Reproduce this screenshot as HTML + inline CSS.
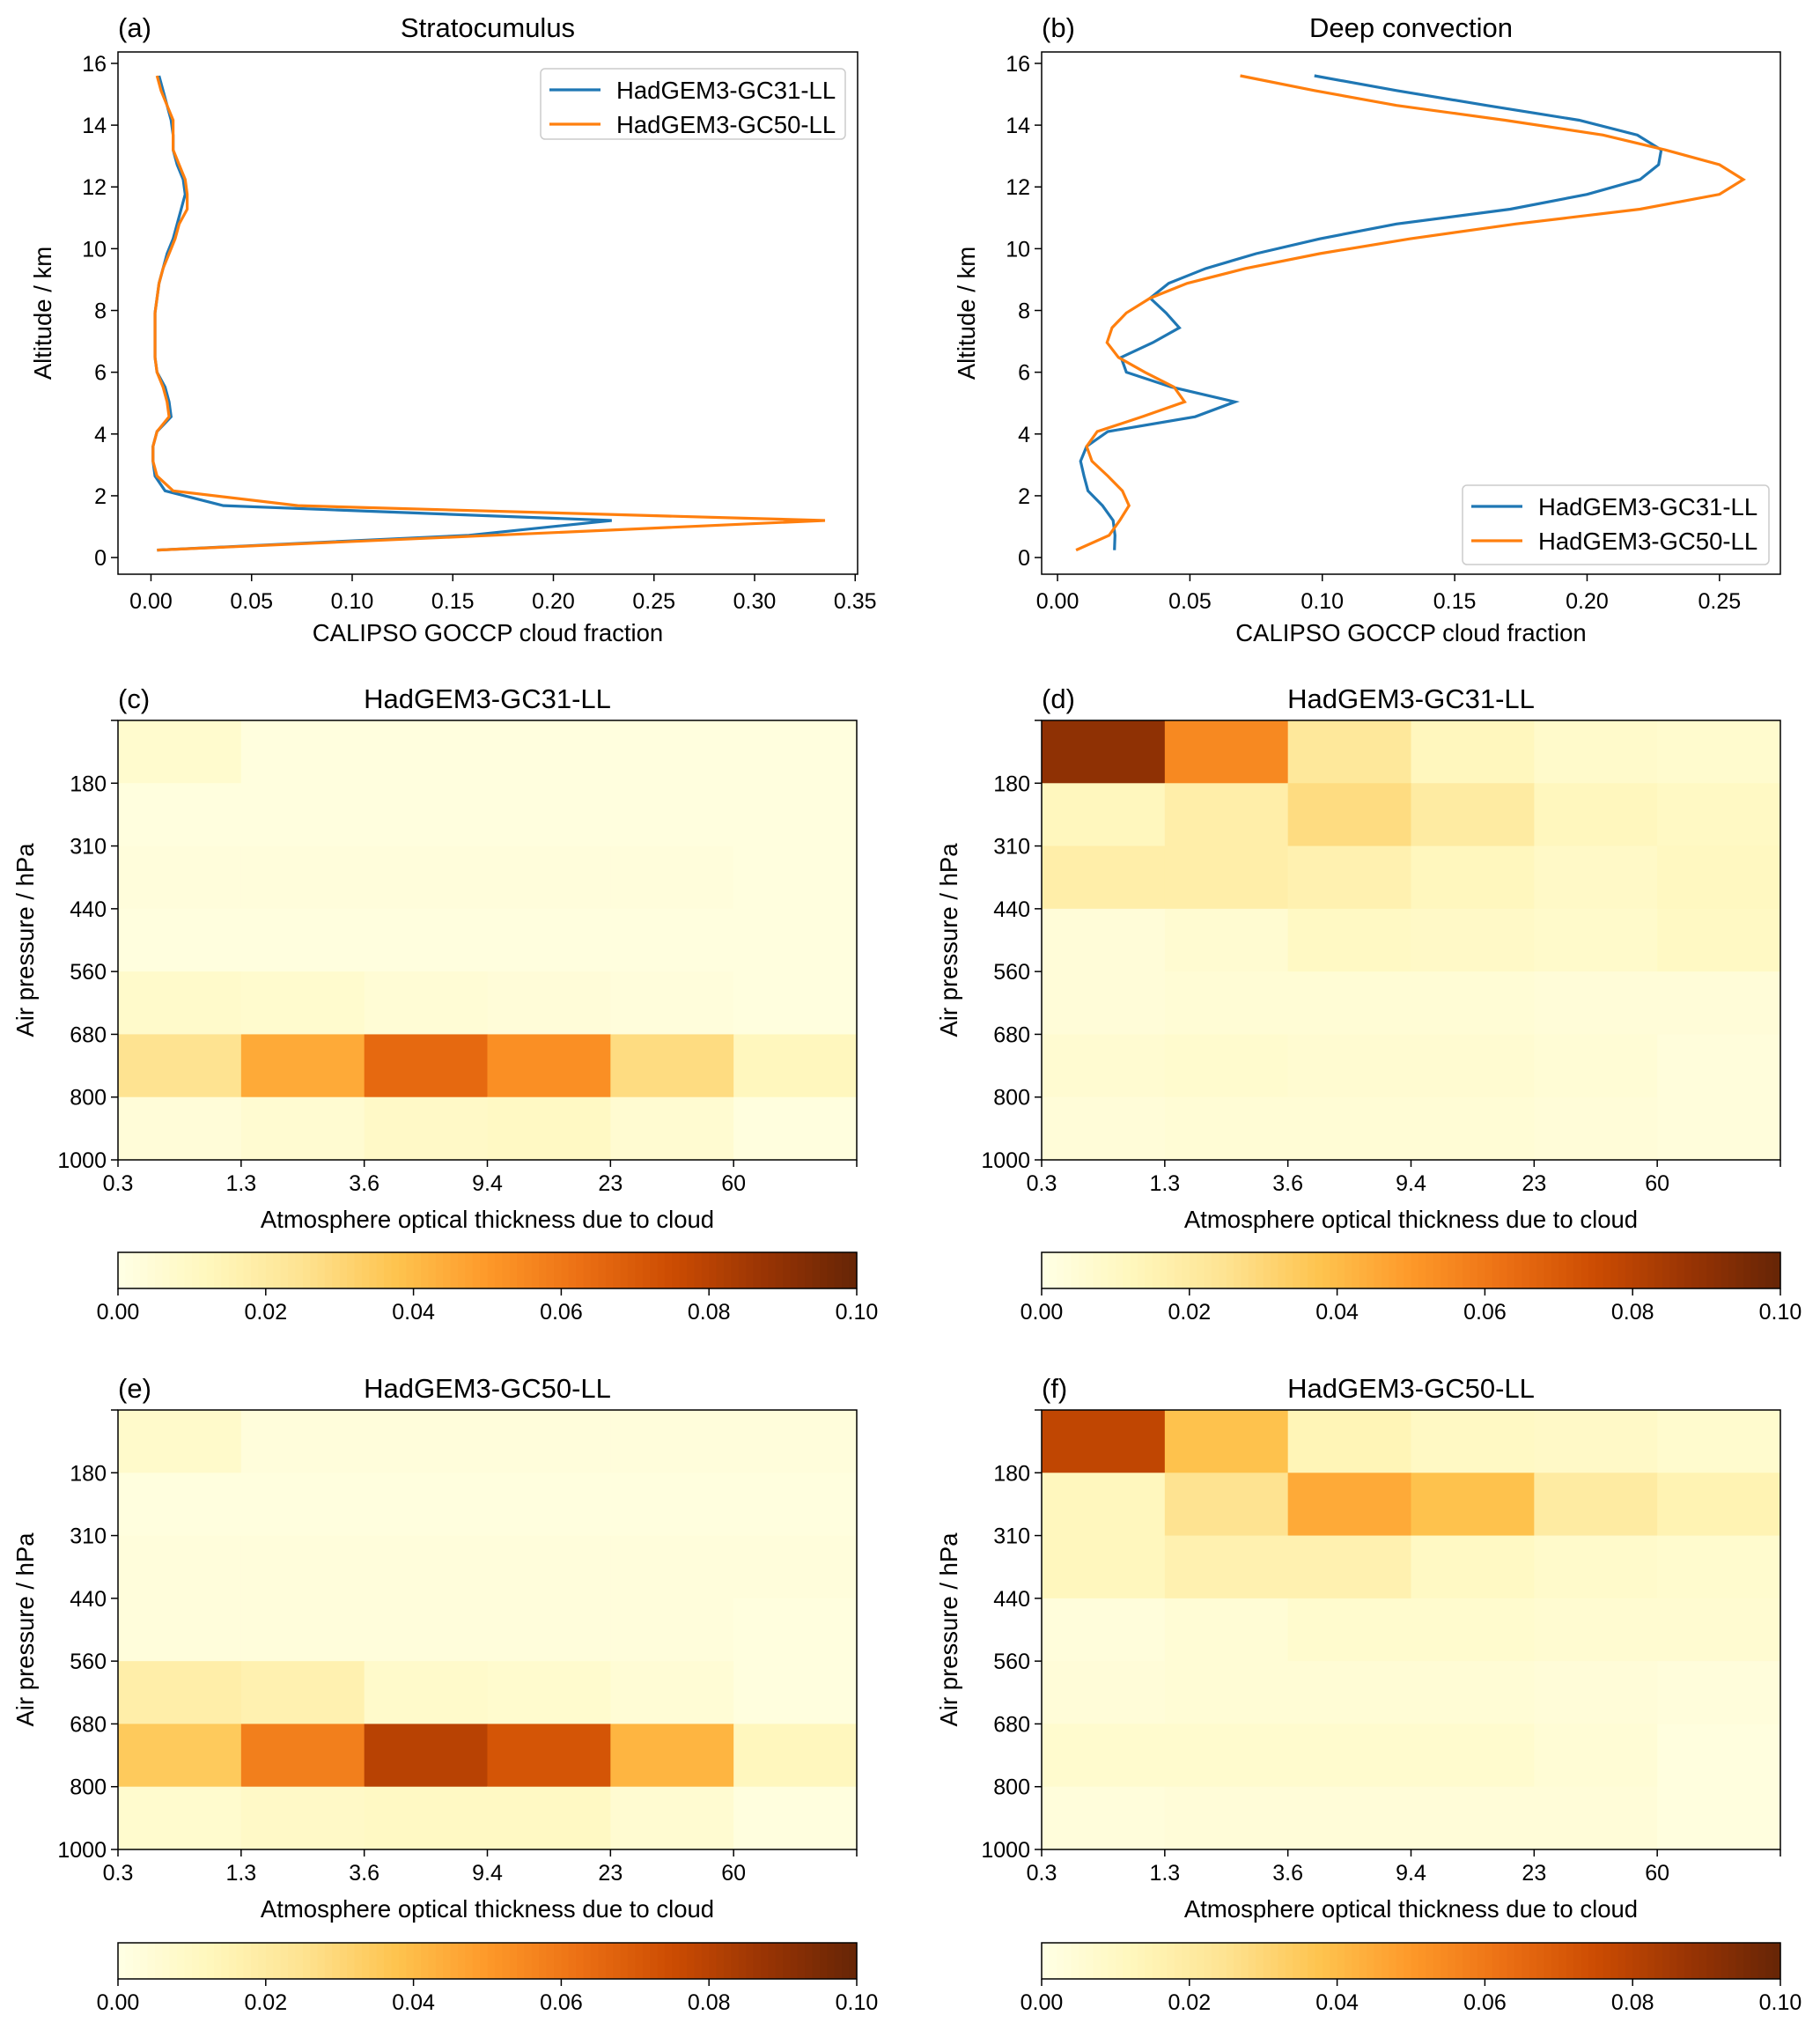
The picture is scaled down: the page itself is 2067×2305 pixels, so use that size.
<!DOCTYPE html>
<html><head><meta charset="utf-8"><style>
body{margin:0;background:#fff}
svg text{font-family:"Liberation Sans",sans-serif;fill:#000}
</style></head><body>
<svg id="fig" width="2067" height="2300" viewBox="0 0 2067 2300" xmlns="http://www.w3.org/2000/svg"></svg>
<script>
const altitudes=[0.24,0.72,1.2,1.68,2.16,2.64,3.12,3.6,4.08,4.56,5.04,5.52,6.0,6.48,6.96,7.44,7.92,8.4,8.88,9.36,9.84,10.32,10.8,11.28,11.76,12.24,12.72,13.2,13.68,14.16,14.64,15.12,15.6];
const scGC31=[0.003,0.158,0.229,0.036,0.007,0.002,0.001,0.001,0.003,0.010,0.009,0.007,0.003,0.002,0.002,0.002,0.002,0.003,0.004,0.006,0.008,0.011,0.013,0.015,0.017,0.016,0.013,0.011,0.011,0.010,0.008,0.006,0.004];
const scGC50=[0.003,0.17,0.335,0.073,0.011,0.003,0.001,0.001,0.003,0.009,0.008,0.006,0.003,0.002,0.002,0.002,0.002,0.003,0.004,0.006,0.009,0.012,0.014,0.018,0.018,0.017,0.014,0.011,0.011,0.011,0.008,0.005,0.003];
const dcGC31=[0.0215,0.0217,0.021,0.017,0.0115,0.010,0.0087,0.011,0.019,0.052,0.067,0.043,0.026,0.024,0.036,0.046,0.041,0.035,0.042,0.056,0.075,0.099,0.128,0.171,0.200,0.220,0.227,0.228,0.219,0.197,0.162,0.128,0.097];
const dcGC50=[0.007,0.0195,0.0235,0.027,0.0245,0.019,0.013,0.011,0.015,0.032,0.048,0.044,0.033,0.023,0.0187,0.0206,0.026,0.035,0.049,0.071,0.099,0.133,0.173,0.220,0.250,0.259,0.250,0.2295,0.206,0.169,0.128,0.097,0.069];
const xTicksA=["0.00","0.05","0.10","0.15","0.20","0.25","0.30","0.35"];
const xTicksB=["0.00","0.05","0.10","0.15","0.20","0.25"];
const yTicksAlt=[0,2,4,6,8,10,12,14,16];
const tauLabels=["0.3","1.3","3.6","9.4","23","60",""];
const presLabels=["","180","310","440","560","680","800","1000"];
const cbTicks=["0.00","0.02","0.04","0.06","0.08","0.10"];
const histC=[[0.007,0.002,0.002,0.002,0.002,0.002],[0.002,0.002,0.002,0.002,0.002,0.002],[0.003,0.003,0.003,0.003,0.003,0.002],[0.002,0.002,0.002,0.002,0.002,0.002],[0.008,0.007,0.005,0.004,0.003,0.002],[0.025,0.045,0.065,0.053,0.028,0.012],[0.004,0.006,0.009,0.010,0.006,0.002]];
const histD=[[0.09,0.055,0.022,0.012,0.008,0.007],[0.012,0.018,0.028,0.020,0.012,0.010],[0.018,0.018,0.016,0.012,0.009,0.011],[0.004,0.006,0.010,0.009,0.008,0.010],[0.004,0.005,0.005,0.005,0.004,0.004],[0.006,0.007,0.006,0.006,0.005,0.003],[0.004,0.005,0.005,0.005,0.004,0.003]];
const histE=[[0.008,0.003,0.003,0.003,0.003,0.003],[0.002,0.002,0.002,0.002,0.002,0.002],[0.003,0.003,0.003,0.003,0.003,0.003],[0.003,0.003,0.003,0.003,0.003,0.002],[0.018,0.016,0.008,0.007,0.005,0.002],[0.035,0.058,0.080,0.072,0.042,0.012],[0.007,0.009,0.010,0.010,0.006,0.002]];
const histF=[[0.078,0.038,0.014,0.010,0.009,0.007],[0.012,0.025,0.045,0.038,0.020,0.015],[0.012,0.016,0.016,0.010,0.008,0.007],[0.003,0.005,0.007,0.007,0.006,0.006],[0.004,0.005,0.005,0.005,0.004,0.003],[0.007,0.007,0.007,0.007,0.005,0.002],[0.003,0.004,0.004,0.004,0.004,0.002]];

const NS="http://www.w3.org/2000/svg";
const svg=document.getElementById('fig');
function mk(tag,attrs,parent,txt){const e=document.createElementNS(NS,tag);for(const k in attrs)e.setAttribute(k,attrs[k]);if(txt!==undefined)e.textContent=txt;(parent||svg).appendChild(e);return e;}
const stops=["#ffffe5","#fff7bc","#fee391","#fec44f","#fe9929","#ec7014","#cc4c02","#993404","#662506"];
function hex(h){return [1,3,5].map(i=>parseInt(h.substr(i,2),16));}
function cmap(v){let t=Math.max(0,Math.min(1,v/0.1))*(stops.length-1);let i=Math.min(Math.floor(t),stops.length-2);let f=t-i;const a=hex(stops[i]),b=hex(stops[i+1]);return 'rgb('+a.map((c,k)=>Math.round(c+(b[k]-c)*f)).join(',')+')';}
const TF=25, LF=27.5, TT=31;

function linePanel(L,R,xmin,xmax,xt,xstep,s1,s2,letter,title,leg,nm){
  const T=59,B=652,ymin=-0.54,ymax=16.37;
  const X=v=>L+(v-xmin)/(xmax-xmin)*(R-L), Y=v=>B-(v-ymin)/(ymax-ymin)*(B-T);
  const g=mk('g',{});
  xt.forEach((t,i)=>{const x=X(i*xstep);mk('line',{x1:x,x2:x,y1:B,y2:B+8,stroke:'#000','stroke-width':1.5},g);
    const e=mk('text',{x:x,y:B+39,'font-size':TF,'text-anchor':'middle'},g,t);});
  yTicksAlt.forEach(t=>{const y=Y(t);mk('line',{x1:L-8,x2:L,y1:y,y2:y,stroke:'#000','stroke-width':1.5},g);
    const e=mk('text',{x:L-13,y:y+9,'font-size':TF,'text-anchor':'end'},g,String(t));});
  [[s1,'#1f77b4','series-gc31'],[s2,'#ff7f0e','series-gc50']].forEach(([s,c,n])=>{
    const p=mk('polyline',{points:s.map((v,i)=>X(v)+','+Y(altitudes[i])).join(' '),fill:'none',stroke:c,'stroke-width':3.2},g);
    });
  mk('rect',{x:L,y:T,width:R-L,height:B-T,fill:'none',stroke:'#000','stroke-width':1.5},g);
  const xl=mk('text',{x:(L+R)/2,y:728,'font-size':LF,'text-anchor':'middle'},g,'CALIPSO GOCCP cloud fraction');
  const yl=mk('text',{x:0,y:0,'font-size':LF,'text-anchor':'middle',transform:'translate('+(L-76)+','+((T+B)/2)+') rotate(-90)'},g,'Altitude / km');
  const tt=mk('text',{x:(L+R)/2,y:42,'font-size':TT,'text-anchor':'middle'},g,title);
  const lt=mk('text',{x:L,y:42,'font-size':TT},g,letter);
  const lg=mk('g',{},g);
  mk('rect',{x:leg[0],y:leg[1],width:leg[2],height:leg[3],rx:5,fill:'#fff',stroke:'#ccc','stroke-width':1.5},lg);
  [['HadGEM3-GC31-LL','#1f77b4'],['HadGEM3-GC50-LL','#ff7f0e']].forEach(([n,c],i)=>{const y=leg[1]+24+i*39;
    mk('line',{x1:leg[0]+10,x2:leg[0]+68,y1:y,y2:y,stroke:c,'stroke-width':3.2},lg);
    const e=mk('text',{x:leg[0]+86,y:y+10,'font-size':LF},lg,n);});
}
linePanel(134,974,-0.0164,0.3512,xTicksA,0.05,scGC31,scGC50,'(a)','Stratocumulus',[614,78,346,80],'panel-a-stratocumulus');
linePanel(1183,2022,-0.006,0.273,xTicksB,0.05,dcGC31,dcGC50,'(b)','Deep convection',[1661,551,348,90],'panel-b-deep-convection');

function heat(L,R,T,B,cbT,data,letter,title,nm){
  const g=mk('g',{});
  const nc=data[0].length,nr=data.length,cw=(R-L)/nc,rh=(B-T)/nr;
  data.forEach((row,r)=>row.forEach((v,c)=>{const e=mk('rect',{x:L+c*cw,y:T+r*rh,width:cw+0.6,height:rh+0.6,fill:cmap(v)},g);
    }));
  mk('rect',{x:L,y:T,width:R-L,height:B-T,fill:'none',stroke:'#000','stroke-width':1.5},g);
  tauLabels.forEach((t,i)=>{const x=L+i*cw;mk('line',{x1:x,x2:x,y1:B,y2:B+8,stroke:'#000','stroke-width':1.5},g);
    const e=mk('text',{x:x,y:B+35,'font-size':TF,'text-anchor':'middle'},g,t);});
  presLabels.forEach((t,i)=>{const y=T+i*rh;mk('line',{x1:L-8,x2:L,y1:y,y2:y,stroke:'#000','stroke-width':1.5},g);
    const e=mk('text',{x:L-13,y:y+9,'font-size':TF,'text-anchor':'end'},g,t);});
  const xl=mk('text',{x:(L+R)/2,y:B+77,'font-size':LF,'text-anchor':'middle'},g,'Atmosphere optical thickness due to cloud');
  const yl=mk('text',{x:0,y:0,'font-size':LF,'text-anchor':'middle',transform:'translate('+(L-96)+','+((T+B)/2)+') rotate(-90)'},g,'Air pressure / hPa');
  const tt=mk('text',{x:(L+R)/2,y:T-14,'font-size':TT,'text-anchor':'middle'},g,title);
  const lt=mk('text',{x:L,y:T-14,'font-size':TT},g,letter);
  const cb=mk('g',{},g);
  const N=100;for(let i=0;i<N;i++){mk('rect',{x:L+i*(R-L)/N,y:cbT,width:(R-L)/N+0.6,height:41,fill:cmap((i+0.5)/N*0.1)},cb);}
  mk('rect',{x:L,y:cbT,width:R-L,height:41,fill:'none',stroke:'#000','stroke-width':1.5},cb);
  cbTicks.forEach((t,i)=>{const x=L+i*(R-L)/(cbTicks.length-1);mk('line',{x1:x,x2:x,y1:cbT+41,y2:cbT+49,stroke:'#000','stroke-width':1.5},cb);
    const e=mk('text',{x:x,y:cbT+76,'font-size':TF,'text-anchor':'middle'},cb,t);});
}
heat(134,973,818,1317,1422,histC,'(c)','HadGEM3-GC31-LL','panel-c-heatmap');
heat(1183,2022,818,1317,1422,histD,'(d)','HadGEM3-GC31-LL','panel-d-heatmap');
heat(134,973,1601,2100,2206,histE,'(e)','HadGEM3-GC50-LL','panel-e-heatmap');
heat(1183,2022,1601,2100,2206,histF,'(f)','HadGEM3-GC50-LL','panel-f-heatmap');
</script>
</body></html>
